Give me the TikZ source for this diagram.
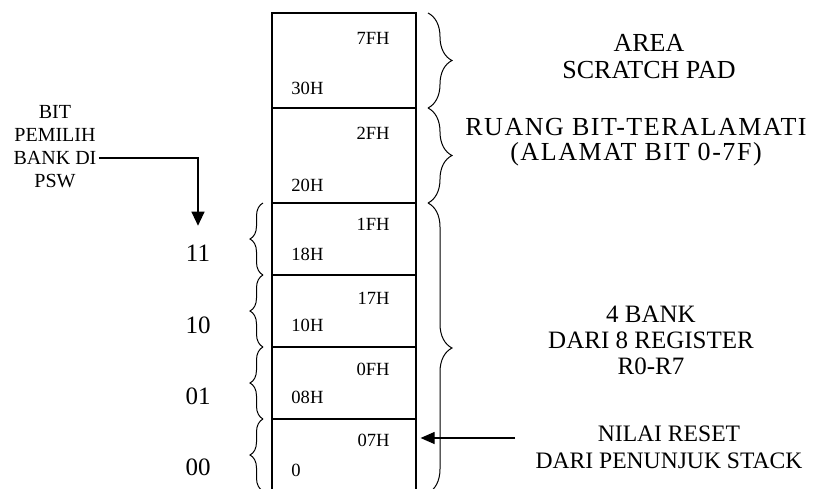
\documentclass[tikz,border=0pt]{standalone}
\usepackage{fontspec}
\setmainfont{Liberation Serif}
\usetikzlibrary{arrows.meta,decorations.pathreplacing}

\begin{document}
\begin{tikzpicture}[x=0.5pt,y=-0.5pt,
    cell/.style={draw, line width=0.6pt, inner sep=0pt, minimum width=72pt, minimum height=36pt},
    tall/.style={minimum height=47.5pt},
    addr/.style={font=\fontsize{9.3}{10}\selectfont, inner sep=0pt},
    big/.style={font=\fontsize{12.5}{13}\selectfont, align=center},
    psw/.style={font=\fontsize{10}{11}\selectfont, inner sep=1pt},
    rbrace/.style={decorate, decoration={brace, amplitude=12pt}, line width=0.5pt},
    lbrace/.style={decorate, decoration={brace, amplitude=6.5pt}, line width=0.5pt}]
        \useasboundingbox (0,0) rectangle (814,488);

        % Memory column (RAM internal)
        \node[cell, tall] (c1) at (344,60.5) {};
        \node[cell, tall] (c2) at (344,155.5) {};
        \node[cell] (c3) at (344,239) {};
        \node[cell] (c4) at (344,311) {};
        \node[cell] (c5) at (344,383) {};
        \node[cell] (c6) at (344,455) {};

        % Addresses
        \node[addr, anchor=east] (a7f) at (390,38) {7FH};
        \node[addr, anchor=west] (a30) at (291,88) {30H};
        \node[addr, anchor=east] (a2f) at (390,133) {2FH};
        \node[addr, anchor=west] (a20) at (291,185) {20H};
        \node[addr, anchor=east] (a1f) at (390,224) {1FH};
        \node[addr, anchor=west] (a18) at (291,254) {18H};
        \node[addr, anchor=east] (a17) at (390,298) {17H};
        \node[addr, anchor=west] (a10) at (291,325) {10H};
        \node[addr, anchor=east] (a0f) at (390,369) {0FH};
        \node[addr, anchor=west] (a08) at (291,397) {08H};
        \node[addr, anchor=east] (a07) at (390,440) {07H};
        \node[addr, anchor=west] (a00) at (291,470) {0};

        % Right braces and descriptions
        \draw[rbrace] (428,13) -- (428,108);
        \draw[rbrace] (428,108) -- (428,203);
        \draw[rbrace] (428,203) -- (428,493);
        \node[big, font=\fontsize{13}{13.5}\selectfont] (scratch) at (649,57) {AREA\\SCRATCH PAD};
        \node[big, font=\fontsize{13}{12.5}\selectfont\addfontfeature{LetterSpace=6}] (bitaddr) at (636,142) {RUANG BIT-TERALAMATI\\(ALAMAT BIT 0-7F)};
        \node[big] (banks) at (651,340) {4 BANK\\DARI 8 REGISTER\\R0-R7};
        \node[big, font=\fontsize{11.8}{13.5}\selectfont] (reset) at (669,447) {NILAI RESET\\DARI PENUNJUK STACK};

        % Left braces and bank select bits
        \draw[lbrace] (263,275) -- (263,203);
        \draw[lbrace] (263,347) -- (263,275);
        \draw[lbrace] (263,419) -- (263,347);
        \draw[lbrace] (263,491) -- (263,419);
        \node[big] (b11) at (198,253) {11};
        \node[big] (b10) at (198,325) {10};
        \node[big] (b01) at (198,396) {01};
        \node[big] (b00) at (198,467) {00};

        % PSW label
        \node[psw] (bit) at (55,112) {BIT};
        \node[psw] (pemilih) at (55,135) {PEMILIH};
        \node[psw] (bankdi) at (55,158) {BANK DI};
        \node[psw] (pswtxt) at (55,181) {PSW};

        % Arrows
        \draw[-{Triangle[length=7pt,width=6.5pt]}, line width=0.6pt, shorten >=6pt] (bankdi.east) -| (b11.north);
        \coordinate (rs) at (515,438);
        \draw[-{Triangle[length=7pt,width=6pt]}, line width=0.6pt, shorten >=2pt] (rs) -- (rs -| c6.east);
\end{tikzpicture}
\end{document}
